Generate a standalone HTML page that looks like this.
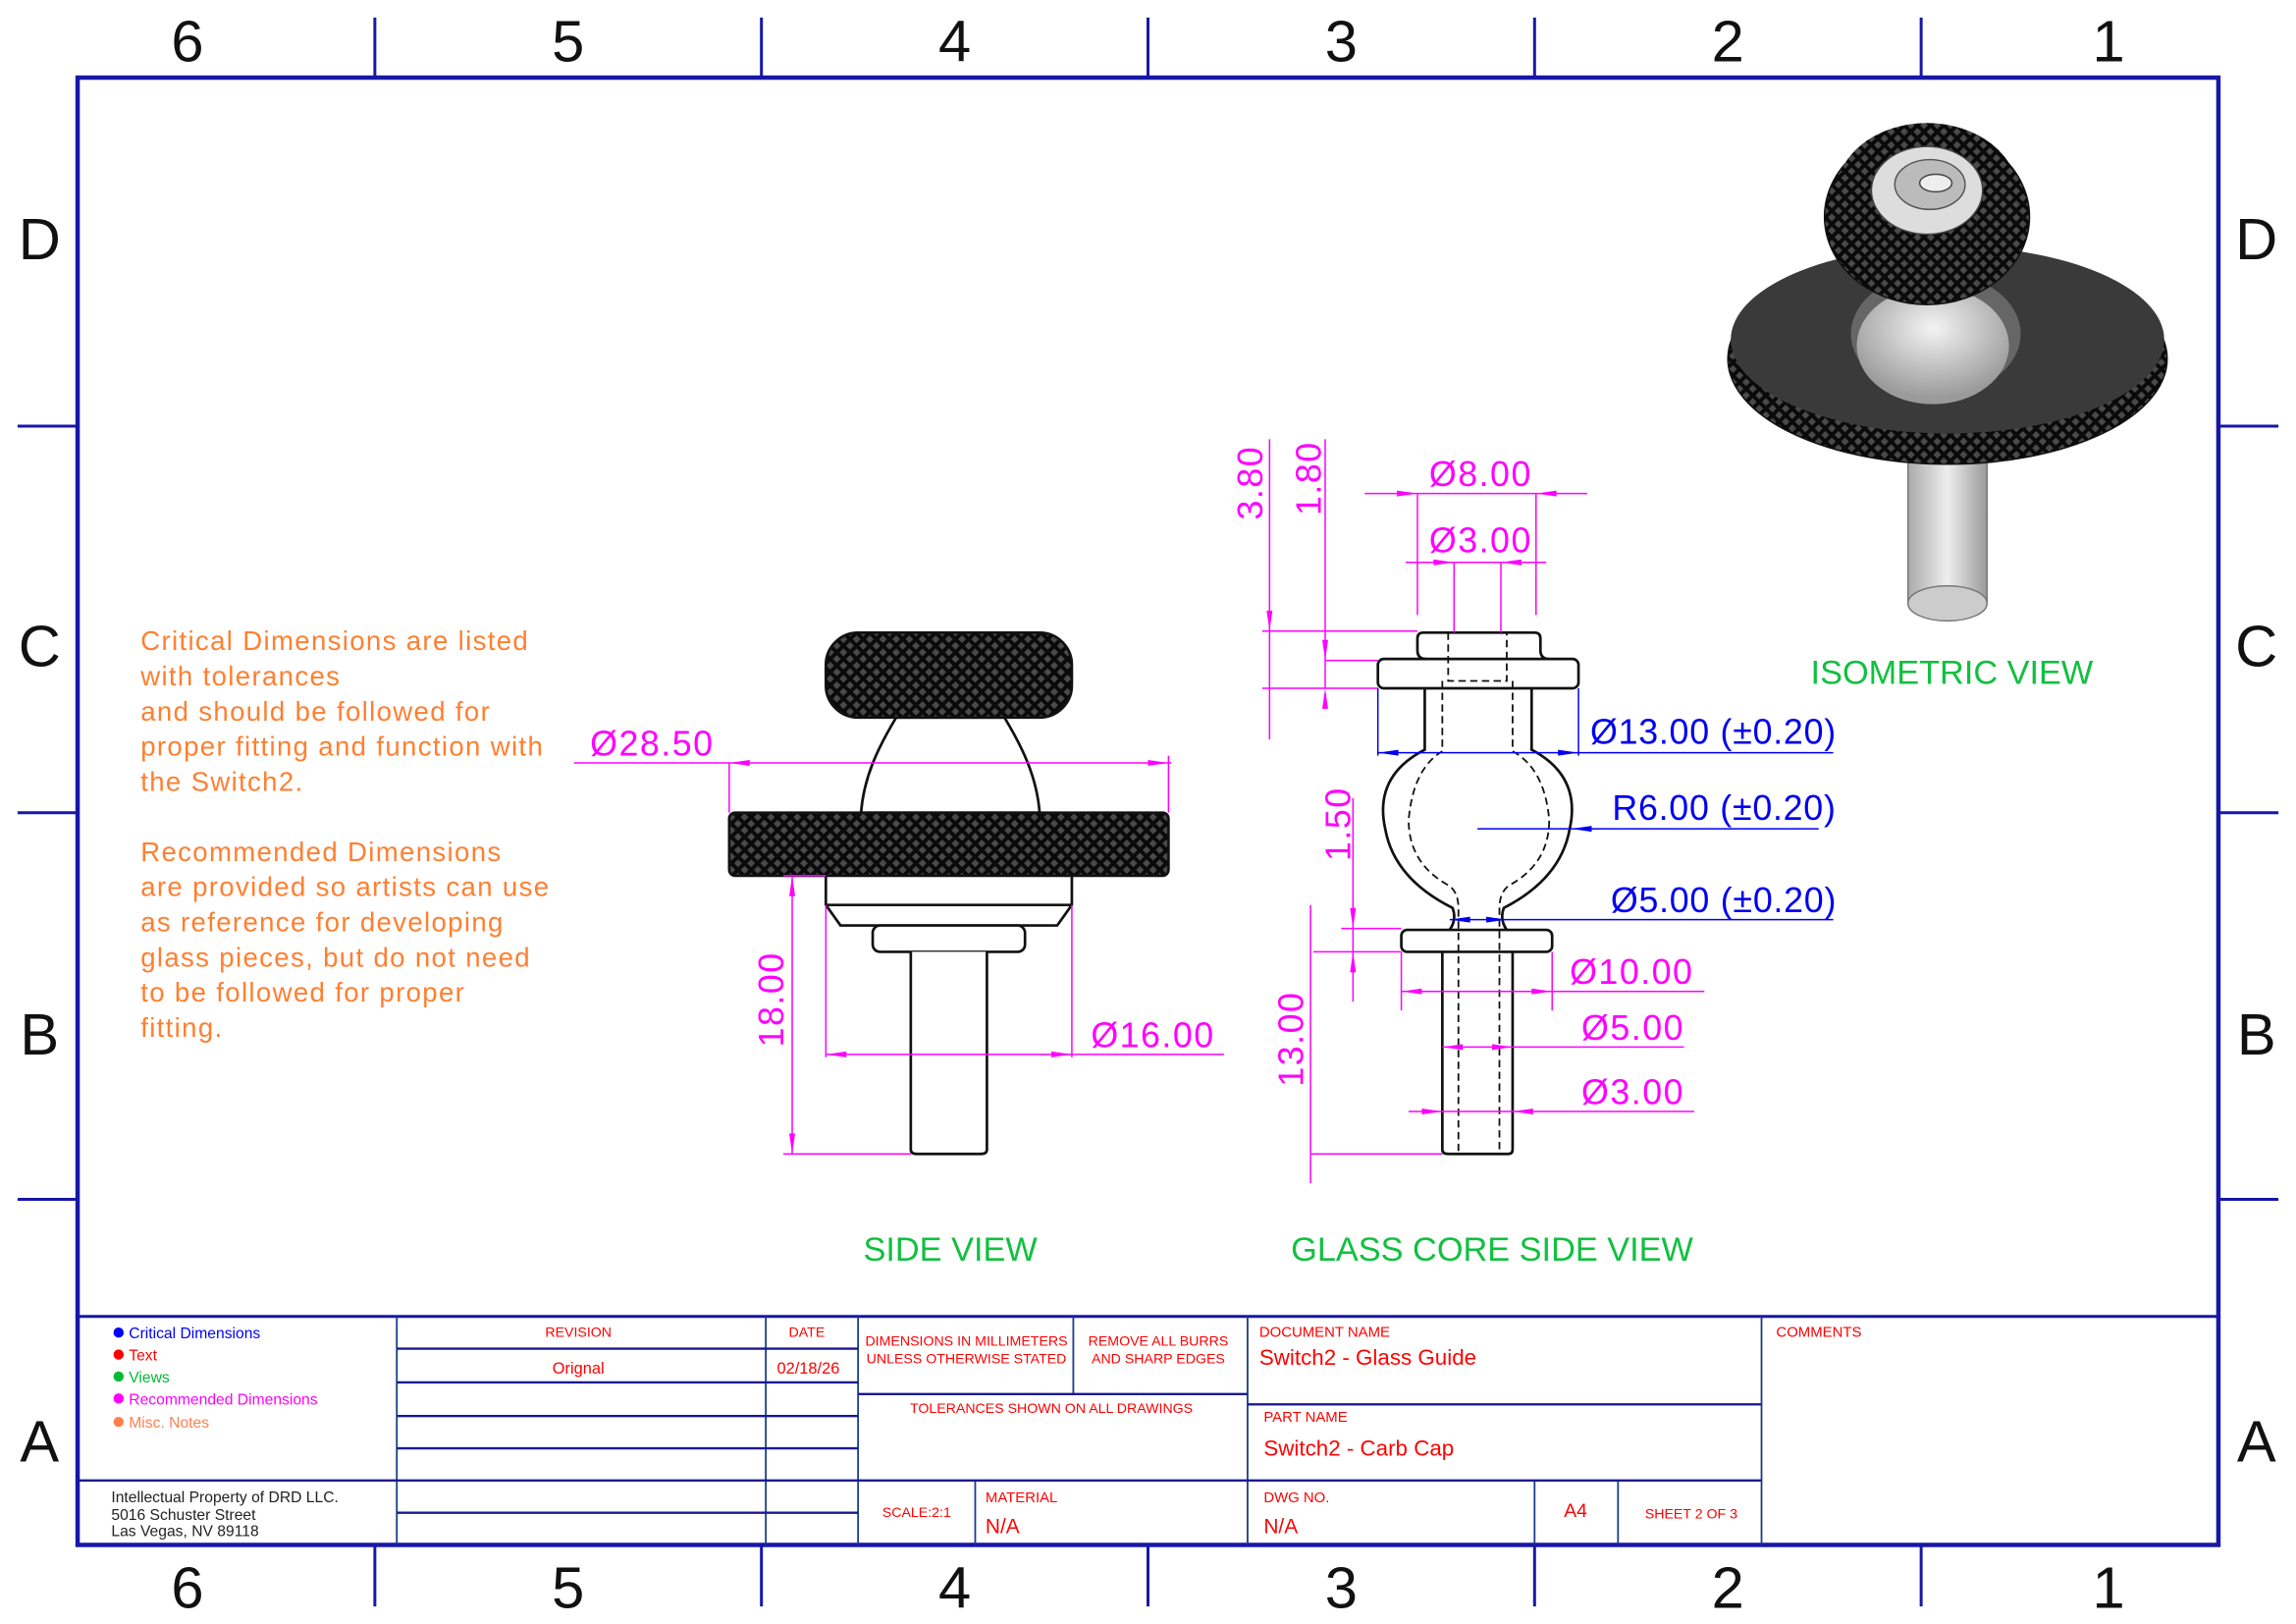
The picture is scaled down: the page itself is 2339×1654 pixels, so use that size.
<!DOCTYPE html>
<html><head><meta charset="utf-8"><style>
html,body{margin:0;padding:0;background:#fff}
svg{display:block}
text{font-family:"Liberation Sans",sans-serif}
</style></head><body>
<svg width="2339" height="1654" viewBox="0 0 1568 1109" preserveAspectRatio="none" xmlns="http://www.w3.org/2000/svg">
<defs>
<pattern id="kn" width="9" height="9" patternUnits="userSpaceOnUse">
<rect width="9" height="9" fill="#4a4a4a"/>
<path d="M0 0L9 9M9 0L0 9" stroke="#0a0a0a" stroke-width="2.6"/>
</pattern>
<radialGradient id="ball" cx="0.5" cy="0.35" r="0.6"><stop offset="0" stop-color="#f4f4f4"/><stop offset="1" stop-color="#9a9a9a"/></radialGradient>
<linearGradient id="sh" x1="0" x2="1"><stop offset="0" stop-color="#aaa"/><stop offset="0.5" stop-color="#eee"/><stop offset="1" stop-color="#999"/></linearGradient>
</defs>
<rect width="1568" height="1109" fill="#fff"/>
<g stroke="#1717a8" fill="none">
<rect x="53" y="53" width="1462" height="1002" stroke-width="3"/>
<g stroke-width="2">
<path d="M256 12V53M520 12V53M784 12V53M1048 12V53M1312 12V53"/>
<path d="M256 1055V1097M520 1055V1097M784 1055V1097M1048 1055V1097M1312 1055V1097"/>
<path d="M12 291H53M12 555H53M12 819H53M1515 291H1556M1515 555H1556M1515 819H1556"/>
</g>
</g>
<g font-size="40" fill="#111" text-anchor="middle">
<text x="128" y="42">6</text><text x="388" y="42">5</text><text x="652" y="42">4</text><text x="916" y="42">3</text><text x="1180" y="42">2</text><text x="1440" y="42">1</text>
<text x="128" y="1098">6</text><text x="388" y="1098">5</text><text x="652" y="1098">4</text><text x="916" y="1098">3</text><text x="1180" y="1098">2</text><text x="1440" y="1098">1</text>
<text x="27" y="177">D</text><text x="27" y="455">C</text><text x="27" y="720">B</text><text x="27" y="998">A</text>
<text x="1541" y="177">D</text><text x="1541" y="455">C</text><text x="1541" y="720">B</text><text x="1541" y="998">A</text>
</g>
<g stroke="#1a3a8a" stroke-width="1.2" fill="none">
<path d="M53 899H1515" stroke="#1717a8" stroke-width="2"/>
<path d="M271 899V1055M523 899V1055M586 899V1055M733 899V952M852 899V1055M1203 899V1055M666 1011V1055M1048 1011V1055M1105 1011V1055"/>
<path d="M271 921H586M271 944H586M271 967H586M271 989H586M586 952H852M852 959H1203M53 1011H1203M271 1033H586" stroke="#1a1a90" stroke-width="1.6"/>
</g>
<g font-size="10.5">
<circle cx="81" cy="910" r="3.5" fill="#0000ff"/><text x="88" y="914" fill="#0000ff">Critical Dimensions</text>
<circle cx="81" cy="925" r="3.5" fill="#ff0000"/><text x="88" y="929" fill="#ff0000">Text</text>
<circle cx="81" cy="940" r="3.5" fill="#00bb33"/><text x="88" y="944" fill="#00bb33">Views</text>
<circle cx="81" cy="955" r="3.5" fill="#ff00ff"/><text x="88" y="959" fill="#ff00ff">Recommended Dimensions</text>
<circle cx="81" cy="971" r="3.5" fill="#ff7f50"/><text x="88" y="975" fill="#ff7f50">Misc. Notes</text>
<text x="76" y="1026" fill="#222">Intellectual Property of DRD LLC.</text>
<text x="76" y="1038" fill="#222">5016 Schuster Street</text>
<text x="76" y="1049" fill="#222">Las Vegas, NV 89118</text>
</g>
<g font-size="9.5" fill="#ff0000" text-anchor="middle">
<text x="395" y="913">REVISION</text><text x="551" y="913">DATE</text>
<text x="395" y="938" font-size="11">Orignal</text><text x="552" y="938" font-size="11">02/18/26</text>
<text x="660" y="919">DIMENSIONS IN MILLIMETERS</text><text x="660" y="931">UNLESS OTHERWISE STATED</text>
<text x="791" y="919">REMOVE ALL BURRS</text><text x="791" y="931">AND SHARP EDGES</text>
<text x="718" y="965">TOLERANCES SHOWN ON ALL DRAWINGS</text>
<text x="626" y="1036">SCALE:2:1</text>
<text x="1076" y="1036" font-size="13">A4</text>
<text x="1155" y="1037">SHEET 2 OF 3</text>
</g>
<g fill="#ff0000">
<text x="860" y="913" font-size="10">DOCUMENT NAME</text>
<text x="860" y="932" font-size="15">Switch2 - Glass Guide</text>
<text x="863" y="971" font-size="10">PART NAME</text>
<text x="863" y="994" font-size="15">Switch2 - Carb Cap</text>
<text x="673" y="1026" font-size="10">MATERIAL</text>
<text x="673" y="1047" font-size="14">N/A</text>
<text x="863" y="1026" font-size="10">DWG NO.</text>
<text x="863" y="1047" font-size="14">N/A</text>
<text x="1213" y="913" font-size="10">COMMENTS</text>
</g>
<g font-size="18.5" fill="#ff7f30" letter-spacing="0.9">
<text x="96" y="444">Critical Dimensions are listed</text>
<text x="96" y="468">with tolerances</text>
<text x="96" y="492">and should be followed for</text>
<text x="96" y="516">proper fitting and function with</text>
<text x="96" y="540">the Switch2.</text>
<text x="96" y="588">Recommended Dimensions</text>
<text x="96" y="612">are provided so artists can use</text>
<text x="96" y="636">as reference for developing</text>
<text x="96" y="660">glass pieces, but do not need</text>
<text x="96" y="684">to be followed for proper</text>
<text x="96" y="708">fitting.</text>
</g>
<g font-size="23" fill="#11c040" text-anchor="middle">
<text x="649" y="861">SIDE VIEW</text>
<text x="1019" y="861">GLASS CORE SIDE VIEW</text>
<text x="1333" y="467">ISOMETRIC VIEW</text>
</g>
<g stroke="#111" stroke-width="1.8" fill="#fff">
<path d="M588 555 C590 530 600 510 612 490 H686 C698 510 708 530 710 555 Z"/>
<rect x="564" y="432" width="168" height="58" rx="22" fill="url(#kn)"/>
<rect x="498" y="555" width="300" height="43" rx="4" fill="url(#kn)"/>
<path d="M564 598 V618 L574 632 H722 L732 618 V598 Z"/>
<path d="M564 618 H732" />
<rect x="596" y="632" width="104" height="18" rx="5"/>
<path d="M622 650 V785 Q622 788 626 788 H670 Q674 788 674 785 V650"/>
</g>
<g stroke="#ff00ff" stroke-width="1" fill="none">
<path d="M392 521 H800 M498 521 V555 M798 516 V555"/>
<path d="M564 618 V722 M732 618 V722 M564 720 H836"/>
<path d="M535 598 H564 M535 788 H622 M541 598 V788"/>
</g>
<g fill="#ff00ff">
<path d="M498 521 l14 -2 v4z M798 521 l-14 -2 v4z M564 720 l14 -2 v4z M732 720 l-14 -2 v4z M541 598 l-2 14 h4z M541 788 l-2 -14 h4z"/>
</g>
<g font-size="24" fill="#ff00ff" letter-spacing="1">
<text x="403" y="516">Ø28.50</text>
<text x="745" y="715">Ø16.00</text>
<text transform="translate(535 715) rotate(-90)">18.00</text>
<text transform="translate(862 355) rotate(-90)">3.80</text>
<text transform="translate(902 352) rotate(-90)">1.80</text>
<text transform="translate(922 588) rotate(-90)">1.50</text>
<text transform="translate(890 742) rotate(-90)">13.00</text>
<text x="976" y="332">Ø8.00</text>
<text x="976" y="377">Ø3.00</text>
<text x="1072" y="672">Ø10.00</text>
<text x="1080" y="710">Ø5.00</text>
<text x="1080" y="754">Ø3.00</text>
</g>
<g font-size="24" fill="#0000ee" letter-spacing="0.5">
<text x="1086" y="508">Ø13.00 (±0.20)</text>
<text x="1101" y="560">R6.00 (±0.20)</text>
<text x="1100" y="623">Ø5.00 (±0.20)</text>
</g>
<g stroke="#111" stroke-width="1.8" fill="none">
<path d="M974 450 Q968 450 968 444 V436 Q968 432 972 432 H1048 Q1052 432 1052 436 V444 Q1052 450 1058 450"/>
<rect x="941" y="450" width="137" height="20" rx="4" fill="#fff"/>
<path d="M973 470 V512 Q938 530 946 566 Q952 600 992 620 Q995 628 990 635"/>
<path d="M1046 470 V512 Q1080 530 1072 566 Q1066 600 1027 620 Q1024 628 1029 635"/>
<rect x="957" y="635" width="103" height="15" rx="4" fill="#fff"/>
<path d="M985 650 V785 Q985 788 989 788 H1030 Q1033 788 1033 785 V650"/>
</g>
<g stroke="#111" stroke-width="1.2" fill="none" stroke-dasharray="5 3">
<path d="M989 432 V465 H1029 V432"/>
<path d="M985 465 V513 Q965 525 962 560 Q962 590 990 605 Q996 610 996 620 V788"/>
<path d="M1033 465 V513 Q1055 525 1058 560 Q1058 590 1030 605 Q1024 610 1024 620 V788"/>
</g>
<g stroke="#ff00ff" stroke-width="1" fill="none">
<path d="M932 337 H1084 M968 337 V420 M1049 337 V420 M960 384 H1056 M993 384 V432 M1025 384 V432"/>
<path d="M862 431 H968 M862 470 H941 M867 300 V505 M905 300 V470 M905 451 H941"/>
<path d="M924 545 V684 M916 634 H957 M916 650 H957 M897 650 H957 M895 618 V808 M895 788 H985"/>
<path d="M957 650 V690 M1060 650 V690 M957 677 H1164 M985 715 H1150 M962 759 H1157"/>
</g>
<g fill="#ff00ff">
<path d="M968 337 l-14 -2 v4z M1049 337 l14 -2 v4z M993 384 l-14 -2 v4z M1025 384 l14 -2 v4z M867 431 l-2 -14 h4z M905 451 l-2 -14 h4z M905 470 l-2 14 h4z M924 634 l-2 -14 h4z M924 650 l-2 14 h4z M957 677 l14 -2 v4z M1060 677 l-14 -2 v4z M985 715 l14 -2 v4z M1033 715 l-14 -2 v4z M985 759 l-14 -2 v4z M1033 759 l14 -2 v4z"/>
</g>
<g fill="#0000ee">
<path d="M941 514 l14 -2 v4z M1078 514 l-14 -2 v4z M1073 566 l14 -2 v4z M990 628 l14 -2 v4z M1029 628 l-14 -2 v4z"/>
</g>
<g stroke="#0000ee" stroke-width="1" fill="none">
<path d="M941 470 V516 M1078 470 V516 M941 514 H1252 M1009 566 H1242 M990 628 H1252"/>
</g>
<g>
<rect x="1303" y="300" width="54" height="112" fill="url(#sh)" stroke="#777"/>
<ellipse cx="1330" cy="412" rx="27" ry="12" fill="#ccc" stroke="#777"/>
<ellipse cx="1330" cy="245" rx="150" ry="72" fill="url(#kn)" stroke="#111"/>
<ellipse cx="1330" cy="232" rx="148" ry="64" fill="#3a3a3a"/>
<ellipse cx="1322" cy="228" rx="58" ry="42" fill="#666"/>
<ellipse cx="1320" cy="236" rx="52" ry="40" fill="url(#ball)"/>
<ellipse cx="1316" cy="148" rx="70" ry="60" fill="url(#kn)" stroke="#111"/>
<ellipse cx="1316" cy="132" rx="62" ry="48" fill="url(#kn)"/>
<ellipse cx="1316" cy="130" rx="38" ry="30" fill="#ddd" stroke="#444"/>
<ellipse cx="1318" cy="126" rx="24" ry="17" fill="#bbb" stroke="#555"/>
<ellipse cx="1322" cy="125" rx="11" ry="6" fill="#eee" stroke="#444"/>
</g>
</svg>
</body></html>
